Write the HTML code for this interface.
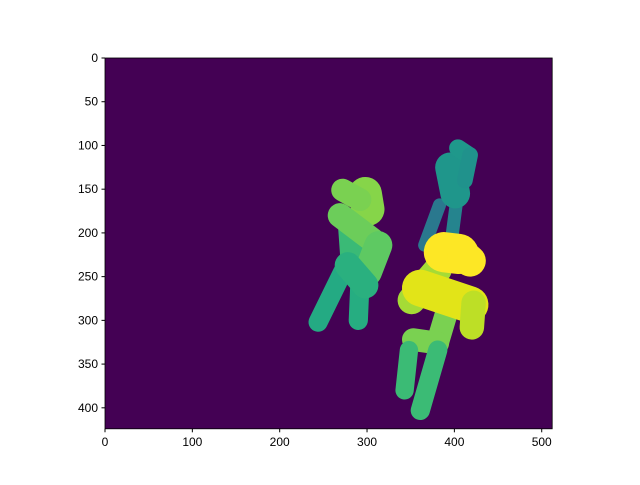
<!DOCTYPE html>
<html><head><meta charset="utf-8"><style>
body{margin:0;background:#fff;}
svg text{font-family:"Liberation Sans",sans-serif;font-size:12px;fill:#000;}
</style></head><body>
<svg id="chart" width="640" height="480">
<rect x="105" y="58" width="447.2" height="370.8" fill="#440154"/>
<g id="marks"></g>
<g id="axes"></g>
</svg>
<script>
const xTicks=[0,100,200,300,400,500];
const yTicks=[0,50,100,150,200,250,300,350,400];
const imgW=512, imgH=424;
// segments: start/end points and width (data units)
const segStart=[[383,168],[402,168],[395,125],[404,103],[418,111],
[283,195],[298,155],[272,151],[269,180],[313,214],[272,245],[292,254],[278,237],
[392,288],[351,277],[361,263],[388,222],[410,225],[422,280],[353,322],[348,334],[381,334]];
const segEnd=[[366,214],[397,206],[401,155],[416,111],[412,140],
[286,237],[301,173],[292,162],[306,208],[301,245],[244,302],[290,300],[298,260],
[380,328],[381,242],[418,282],[405,224],[418,232],[420,308],[381,326],[343,380],[361,403]];
const segWidth=[15,15,34,20,18,32,38,26,28,32,22,22,30,26,32,42,46,36,28,26,21,22];
const segColor=["#2a788e","#25848e","#1f968b","#1f988b","#20928c",
"#3aba76","#86d549","#7ad151","#6ccd5a","#5ec962","#24aa83","#26ad81","#2ab07f",
"#7ad151","#a5db36","#e2e418","#fde725","#fde725","#bddf26","#7ad151","#3bbb75","#3bbb75"];
const L=105,T=58,W=447.2,H=370.8;
const sx=v=>L+v/imgW*W, sy=v=>T+v/imgH*H, sc=W/imgW;
const NS="http://www.w3.org/2000/svg";
const marks=document.getElementById('marks'), axes=document.getElementById('axes');
segStart.forEach((s,i)=>{
 const l=document.createElementNS(NS,'line');
 l.setAttribute('x1',sx(s[0]));l.setAttribute('y1',sy(s[1]));
 l.setAttribute('x2',sx(segEnd[i][0]));l.setAttribute('y2',sy(segEnd[i][1]));
 l.setAttribute('stroke',segColor[i]);l.setAttribute('stroke-width',segWidth[i]*sc);
 l.setAttribute('stroke-linecap','round');
 
 
 marks.appendChild(l);
});
const fr=document.createElementNS(NS,'rect');
fr.setAttribute('x',L);fr.setAttribute('y',T);fr.setAttribute('width',W);fr.setAttribute('height',H);
fr.setAttribute('fill','none');fr.setAttribute('stroke','#000');fr.setAttribute('stroke-width','0.8');


axes.appendChild(fr);
xTicks.forEach(v=>{
 const x=sx(v);
 const t=document.createElementNS(NS,'line');
 t.setAttribute('x1',x);t.setAttribute('x2',x);t.setAttribute('y1',T+H);t.setAttribute('y2',T+H+3.5);t.setAttribute('stroke','#000');
 
 
 axes.appendChild(t);
 const tx=document.createElementNS(NS,'text');
 tx.setAttribute('x',x);tx.setAttribute('y',T+H+17);tx.setAttribute('text-anchor','middle');tx.textContent=v;
 
 
 axes.appendChild(tx);
});
yTicks.forEach(v=>{
 const y=sy(v);
 const t=document.createElementNS(NS,'line');
 t.setAttribute('x1',L-3.5);t.setAttribute('x2',L);t.setAttribute('y1',y);t.setAttribute('y2',y);t.setAttribute('stroke','#000');
 
 
 axes.appendChild(t);
 const tx=document.createElementNS(NS,'text');
 tx.setAttribute('x',L-7);tx.setAttribute('y',y+4);tx.setAttribute('text-anchor','end');tx.textContent=v;
 
 
 axes.appendChild(tx);
});
</script>
</body></html>
